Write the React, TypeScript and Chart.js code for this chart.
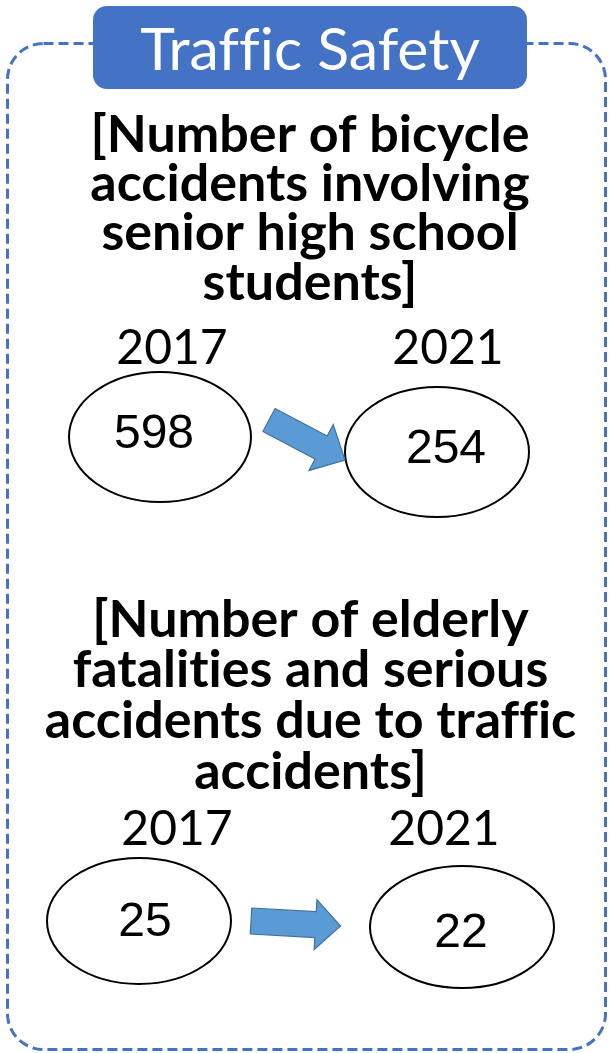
import React, { useEffect, useRef } from "react";
import { Chart, registerables } from "chart.js";

Chart.register(...registerables);

// ---------- data ----------
const headerText = "Traffic Safety";
const years = ["2017", "2021"];
const bicycleTitle = ["[Number of bicycle", "accidents involving", "senior high school", "students]"];
const bicycleValues = [598, 254];
const elderlyTitle = ["[Number of elderly", "fatalities and serious", "accidents due to traffic", "accidents]"];
const elderlyValues = [25, 22];

// ---------- styles ----------
const BLUE = "#4472C4";
const ARROW_FILL = "#5B9BD5";
const ARROW_STROKE = "#41719C";

type Shift = { dx: number; dy: number };
type PanelStyle = {
  top: number;
  height: number;
  padLeft: number;
  sideLeft: number;
  sideRight: number;
  padBottom: number;
  titlePadTop: number;
  titleLineHeight: number;
  tickPad: number;
  ellipses: { dx: number; dy: number; rx: number; ry: number }[];
  labels: Shift[];
  arrow: { tail: Shift; tip: Shift; shaft: number; head: number; headLen: number };
};

const panelA: PanelStyle = {
  top: 95,
  height: 445,
  padLeft: 10,
  sideLeft: 162,
  sideRight: 162,
  padBottom: 55.35,
  titlePadTop: 15.25,
  titleLineHeight: 49.3,
  tickPad: 16.95,
  ellipses: [
    { dx: -12, dy: 0, rx: 91, ry: 65 },
    { dx: -11, dy: 15, rx: 92, ry: 65 },
  ],
  labels: [
    { dx: -18, dy: 11 },
    { dx: -2, dy: 26 },
  ],
  arrow: { tail: { dx: 97, dy: -17 }, tip: { dx: -103, dy: 23 }, shaft: 26, head: 52, headLen: 27 },
};

const panelB: PanelStyle = {
  top: 575,
  height: 470,
  padLeft: 11,
  sideLeft: 166,
  sideRight: 166,
  padBottom: 64.45,
  titlePadTop: 19.55,
  titleLineHeight: 50.7,
  tickPad: 8.05,
  ellipses: [
    { dx: -38, dy: 0, rx: 92, ry: 63 },
    { dx: 18, dy: 6, rx: 92, ry: 61 },
  ],
  labels: [
    { dx: -32, dy: 15 },
    { dx: 17, dy: 26 },
  ],
  arrow: { tail: { dx: 74, dy: 0 }, tip: { dx: -103.5, dy: 5 }, shaft: 26, head: 50, headLen: 25 },
};

function drawArrow(
  ctx: CanvasRenderingContext2D,
  tx: number, ty: number, px: number, py: number,
  shaft: number, head: number, headLen: number
) {
  const len = Math.hypot(px - tx, py - ty);
  const ux = (px - tx) / len;
  const uy = (py - ty) / len;
  const nx = -uy;
  const ny = ux;
  const bx = px - ux * headLen;
  const by = py - uy * headLen;
  const s = shaft / 2;
  const h = head / 2;
  ctx.beginPath();
  ctx.moveTo(tx + nx * s, ty + ny * s);
  ctx.lineTo(bx + nx * s, by + ny * s);
  ctx.lineTo(bx + nx * h, by + ny * h);
  ctx.lineTo(px, py);
  ctx.lineTo(bx - nx * h, by - ny * h);
  ctx.lineTo(bx - nx * s, by - ny * s);
  ctx.lineTo(tx - nx * s, ty - ny * s);
  ctx.closePath();
  ctx.fillStyle = ARROW_FILL;
  ctx.fill();
  ctx.strokeStyle = ARROW_STROKE;
  ctx.lineWidth = 1.2;
  ctx.stroke();
}

// Disable ligatures (e.g. "ffi", "ti") by using a tiny letter spacing.
const noLigaturesPlugin = {
  id: "noLigatures",
  beforeDraw(chart: any) {
    (chart.ctx as any).letterSpacing = "0.01px";
  },
  afterDraw(chart: any) {
    (chart.ctx as any).letterSpacing = "0px";
  },
};

function makeBubblePlugin(style: PanelStyle, values: number[]) {
  return {
    id: "ovalValues",
    afterDatasetsDraw(chart: any) {
      const ctx: CanvasRenderingContext2D = chart.ctx;
      const meta = chart.getDatasetMeta(0);
      const area = chart.chartArea;
      const midY = (area.top + area.bottom) / 2;
      ctx.save();
      const pts = meta.data.map((p: any) => ({ x: p.x, y: midY }));
      pts.forEach((p: any, i: number) => {
        const e = style.ellipses[i];
        ctx.beginPath();
        ctx.ellipse(p.x + e.dx, p.y + e.dy, e.rx, e.ry, 0, 0, Math.PI * 2);
        ctx.fillStyle = "#ffffff";
        ctx.fill();
        ctx.lineWidth = 2;
        ctx.strokeStyle = "#000000";
        ctx.stroke();
        const l = style.labels[i];
        ctx.fillStyle = "#000000";
        ctx.font = '48px "Liberation Sans", Arial, sans-serif';
        ctx.textAlign = "center";
        ctx.textBaseline = "alphabetic";
        ctx.fillText(String(values[i]), p.x + l.dx, p.y + l.dy);
      });
      const a = style.arrow;
      drawArrow(
        ctx,
        pts[0].x + a.tail.dx, pts[0].y + a.tail.dy,
        pts[1].x + a.tip.dx, pts[1].y + a.tip.dy,
        a.shaft, a.head, a.headLen
      );
      ctx.restore();
    },
  };
}

function Panel({ title, values, style }: { title: string[]; values: number[]; style: PanelStyle }) {
  const ref = useRef<HTMLCanvasElement | null>(null);
  useEffect(() => {
    if (!ref.current) return;
    const side = (w: number, pos: "left" | "right") => ({
      position: pos,
      display: true,
      grid: { display: false, drawTicks: false, tickLength: 0 },
      border: { display: false },
      ticks: { display: false },
      afterFit: (scale: any) => {
        scale.width = w;
      },
    });
    const chart = new Chart(ref.current, {
      type: "line",
      data: {
        labels: years,
        datasets: [
          {
            data: values,
            showLine: false,
            pointRadius: 0,
            pointHoverRadius: 0,
            yAxisID: "y",
          },
        ],
      },
      options: {
        responsive: false,
        animation: false,
        events: [],
        layout: { padding: { left: style.padLeft, right: 0, top: 0, bottom: style.padBottom } },
        plugins: {
          legend: { display: false },
          tooltip: { enabled: false },
          title: {
            display: true,
            text: title,
            color: "#000000",
            font: { family: "Lato", size: 52, weight: "bold", lineHeight: `${style.titleLineHeight}px` },
            padding: { top: style.titlePadTop, bottom: 0 },
          },
        },
        scales: {
          x: {
            position: "top",
            offset: false,
            grid: { display: false, drawTicks: false, tickLength: 0 },
            border: { display: false },
            ticks: {
              color: "#000000",
              font: { family: "Lato", size: 48, lineHeight: 1 },
              padding: style.tickPad,
              maxRotation: 0,
              autoSkip: false,
            },
          },
          y: { display: false },
          sideL: side(style.sideLeft, "left"),
          sideR: side(style.sideRight, "right"),
        },
      } as any,
      plugins: [noLigaturesPlugin, makeBubblePlugin(style, values)],
    });
    return () => chart.destroy();
  }, [title, values, style]);
  return (
    <canvas
      ref={ref}
      width={610}
      height={style.height}
      style={{ position: "absolute", left: 0, top: style.top, display: "block" }}
    />
  );
}

export default function App() {
  return (
    <div style={{ position: "absolute", left: 0, top: 0, width: 610, height: 1053, background: "#ffffff", overflow: "hidden" }}>
      <svg width={610} height={1053} style={{ position: "absolute", left: 0, top: 0 }}>
        <rect x={7.5} y={43.5} width={598} height={1006} rx={36} ry={36} fill="none" stroke={BLUE} strokeWidth={3} strokeDasharray="10 5" />
        <rect x={93} y={6} width={434} height={83} rx={14} ry={14} fill={BLUE} />
        <text
          x={310}
          y={70}
          textAnchor="middle"
          fill="#ffffff"
          fontFamily="Lato"
          fontSize={59}
          style={{ fontVariantLigatures: "none" }}
        >
          {headerText}
        </text>
      </svg>
      <Panel title={bicycleTitle} values={bicycleValues} style={panelA} />
      <Panel title={elderlyTitle} values={elderlyValues} style={panelB} />
    </div>
  );
}
